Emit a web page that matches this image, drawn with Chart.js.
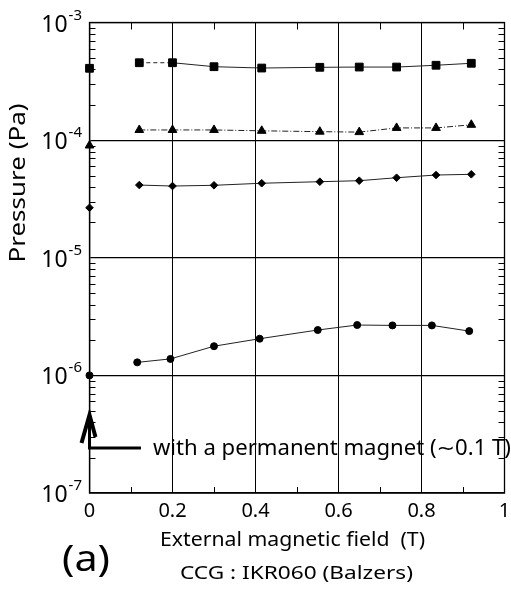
<!DOCTYPE html>
<html>
<head>
<meta charset="utf-8">
<script src="https://cdn.jsdelivr.net/npm/chart.js@4/dist/chart.umd.min.js"></script>
<style>
  html, body { margin: 0; padding: 0; background: #fff; }
  #box { width: 511px; height: 590px; position: relative; }
</style>
</head>
<body>
<div id="box"><canvas id="place__graph"></canvas></div>
<script>
// field values (T)
const fieldT = [0.12, 0.2, 0.3, 0.415, 0.555, 0.65, 0.74, 0.835, 0.92];
const circleFieldT = [0.115, 0.195, 0.3, 0.41, 0.55, 0.645, 0.73, 0.825, 0.915];

// pressures (Pa)
const squarePa = [4.55e-4, 4.55e-4, 4.21e-4, 4.1e-4, 4.16e-4, 4.18e-4, 4.18e-4, 4.33e-4, 4.5e-4];
const trianglePa = [1.22e-4, 1.22e-4, 1.22e-4, 1.2e-4, 1.18e-4, 1.17e-4, 1.27e-4, 1.27e-4, 1.35e-4];
const diamondPa = [4.15e-5, 4.07e-5, 4.13e-5, 4.3e-5, 4.43e-5, 4.52e-5, 4.79e-5, 5.05e-5, 5.12e-5];
const circlePa = [1.29e-6, 1.38e-6, 1.77e-6, 2.05e-6, 2.43e-6, 2.68e-6, 2.66e-6, 2.66e-6, 2.38e-6];

// points measured with a permanent magnet only (x = 0)
const magnetFieldT = [0, 0, 0, 0];
const magnetPa = [4.08e-4, 9.0e-5, 2.66e-5, 1.0e-6];

// tick labels and texts
const xTickLabels = ['0', '0.2', '0.4', '0.6', '0.8', '1'];
const xMinorTicks = [0.1, 0.3, 0.5, 0.7, 0.9];
const yDecades = [1e-7, 1e-6, 1e-5, 1e-4, 1e-3];
const yExponents = ['-7', '-6', '-5', '-4', '-3'];
const magnetNote = 'with a permanent magnet (\u223C0.1 T)';
const xTitle = 'External magnetic field  (T)';
const yTitle = 'Pressure (Pa)';
const panelLabel = '(a)';
const gaugeLabel = 'CCG : IKR060 (Balzers)';

const FONT = '"Noto Sans", "DejaVu Sans", sans-serif';

function pairs(xs, ys) {
    return xs.map((v, i) => ({x: v, y: ys[i]}));
}

function isDecade(v) {
    const l = Math.log10(v);
    return Math.abs(l - Math.round(l)) < 1e-6;
}

// text stretched sideways to the width it has in the scan
function fitText(ctx, text, x, y, size, width, align) {
    ctx.font = size + 'px ' + FONT;
    const w = ctx.measureText(text).width;
    ctx.save();
    ctx.translate(x, y);
    ctx.scale(width / w, 1);
    ctx.textAlign = align;
    ctx.textBaseline = 'alphabetic';
    ctx.fillText(text, 0, 0);
    ctx.restore();
}

function series(data, style, radius, dash) {
    return {
        data: data,
        showLine: true,
        borderColor: '#222',
        borderWidth: 1,
        borderDash: dash || [],
        pointStyle: style,
        pointRadius: radius,
        pointBorderWidth: 1,
        pointBackgroundColor: '#000',
        pointBorderColor: '#000',
        clip: false
    };
}

// frame, inner ticks, decade labels, arrow and captions
const extras = {
    id: 'extras',
    afterDraw(chart) {
        const ctx = chart.ctx;
        const a = chart.chartArea;
        const xs = chart.scales.x;
        const ys = chart.scales.y;
        ctx.save();
        ctx.strokeStyle = '#000';
        ctx.fillStyle = '#000';
        ctx.lineWidth = 1.3;
        ctx.strokeRect(a.left, a.top, a.right - a.left, a.bottom - a.top);

        ctx.lineWidth = 1;
        ctx.beginPath();
        for (let e = -7; e < -3; e++) {
            for (let m = 2; m < 10; m++) {
                const py = Math.round(ys.getPixelForValue(m * Math.pow(10, e))) + 0.5;
                ctx.moveTo(a.left, py); ctx.lineTo(a.left + 6, py);
                ctx.moveTo(a.right, py); ctx.lineTo(a.right - 6, py);
            }
        }
        xMinorTicks.forEach(t => {
            const px = Math.round(xs.getPixelForValue(t)) + 0.5;
            ctx.moveTo(px, a.top); ctx.lineTo(px, a.top + 7);
            ctx.moveTo(px, a.bottom); ctx.lineTo(px, a.bottom - 6);
        });
        ctx.stroke();

        // 10^n labels
        yDecades.forEach((d, i) => {
            const py = ys.getPixelForValue(d);
            ctx.font = '23px ' + FONT;
            const w1 = ctx.measureText('10').width;
            ctx.font = '15px ' + FONT;
            const w2 = ctx.measureText(yExponents[i]).width;
            const x0 = 81 - w1 - w2;
            ctx.textAlign = 'left';
            ctx.textBaseline = 'alphabetic';
            ctx.font = '23px ' + FONT;
            ctx.fillText('10', x0, py + 9);
            ctx.font = '15px ' + FONT;
            ctx.fillText(yExponents[i], x0 + w1 + 1, py - 3);
        });

        // y title
        ctx.save();
        ctx.translate(25, 183);
        ctx.rotate(-Math.PI / 2);
        fitText(ctx, yTitle, 0, 0, 21, 159, 'center');
        ctx.restore();

        // arrow for the permanent magnet points
        const ax = xs.getPixelForValue(0);
        const aBase = ys.getPixelForValue(2.41e-7);
        const aTip = ys.getPixelForValue(4.6e-7);
        ctx.lineWidth = 3;
        ctx.lineCap = 'butt';
        ctx.beginPath();
        ctx.moveTo(ax, aBase);
        ctx.lineTo(ax, aTip + 2);
        ctx.moveTo(ax - 1.5, aBase);
        ctx.lineTo(xs.getPixelForValue(0.124), aBase);
        ctx.stroke();
        ctx.lineWidth = 4;
        ctx.beginPath();
        ctx.moveTo(ax - 8, aTip + 28);
        ctx.lineTo(ax, aTip);
        ctx.lineTo(ax + 6, aTip + 22);
        ctx.stroke();

        fitText(ctx, magnetNote, xs.getPixelForValue(0.153), ys.getPixelForValue(2.1e-7), 21, 358, 'left');

        // captions under the axis
        fitText(ctx, xTitle, 292.5, 546, 19, 265, 'center');
        fitText(ctx, gaugeLabel, 296.5, 579, 18.5, 233, 'center');
        fitText(ctx, panelLabel, 62, 571, 36, 48, 'left');
        ctx.restore();
    }
};

const ctx = document.getElementById('place__graph').getContext('2d');

const squares = series(pairs(fieldT, squarePa), 'rect', 5.5);
// first stretch of the square curve is dashed in the scan
squares.segment = {borderDash: s => s.p0DataIndex === 0 ? [4, 3] : undefined};

var chart = new Chart(ctx, {
    type: 'scatter',
    data: {
        datasets: [
            squares,
            series(pairs(fieldT, trianglePa), 'triangle', 5, [6, 2, 1, 2]),
            series(pairs(fieldT, diamondPa), 'rectRot', 3.8),
            series(pairs(circleFieldT, circlePa), 'circle', 3.5),
            {
                data: pairs(magnetFieldT, magnetPa),
                showLine: false,
                pointStyle: ['rect', 'triangle', 'rectRot', 'circle'],
                pointRadius: [5.5, 5, 3.8, 3.5],
                pointBackgroundColor: '#000',
                pointBorderColor: '#000',
                pointBorderWidth: 1,
                clip: false
            }
        ]
    },
    options: {
        responsive: true,
        maintainAspectRatio: false,
        animation: false,
        layout: {padding: {top: 22.5, right: 4, left: 0, bottom: 0}},
        plugins: {legend: {display: false}, tooltip: {enabled: false}},
        scales: {
            x: {
                type: 'linear',
                min: 0,
                max: 1,
                afterFit: s => { s.height = 97; s.paddingLeft = 0; s.paddingRight = 0; },
                ticks: {
                    stepSize: 0.2,
                    padding: 6,
                    color: '#000',
                    font: {family: FONT, size: 20},
                    callback: (v, i) => xTickLabels[i]
                },
                grid: {color: '#000', lineWidth: 1, drawTicks: false},
                border: {color: '#000', width: 1.3}
            },
            y: {
                type: 'logarithmic',
                min: 1e-7,
                max: 1e-3,
                afterFit: s => { s.width = 89.5; },
                ticks: {display: false},
                grid: {
                    drawTicks: false,
                    lineWidth: 1.2,
                    color: c => (c.tick && isDecade(c.tick.value)) ? '#000' : 'rgba(0,0,0,0)'
                },
                border: {color: '#000', width: 1.3}
            }
        }
    },
    plugins: [extras]
});
</script>
</body>
</html>
